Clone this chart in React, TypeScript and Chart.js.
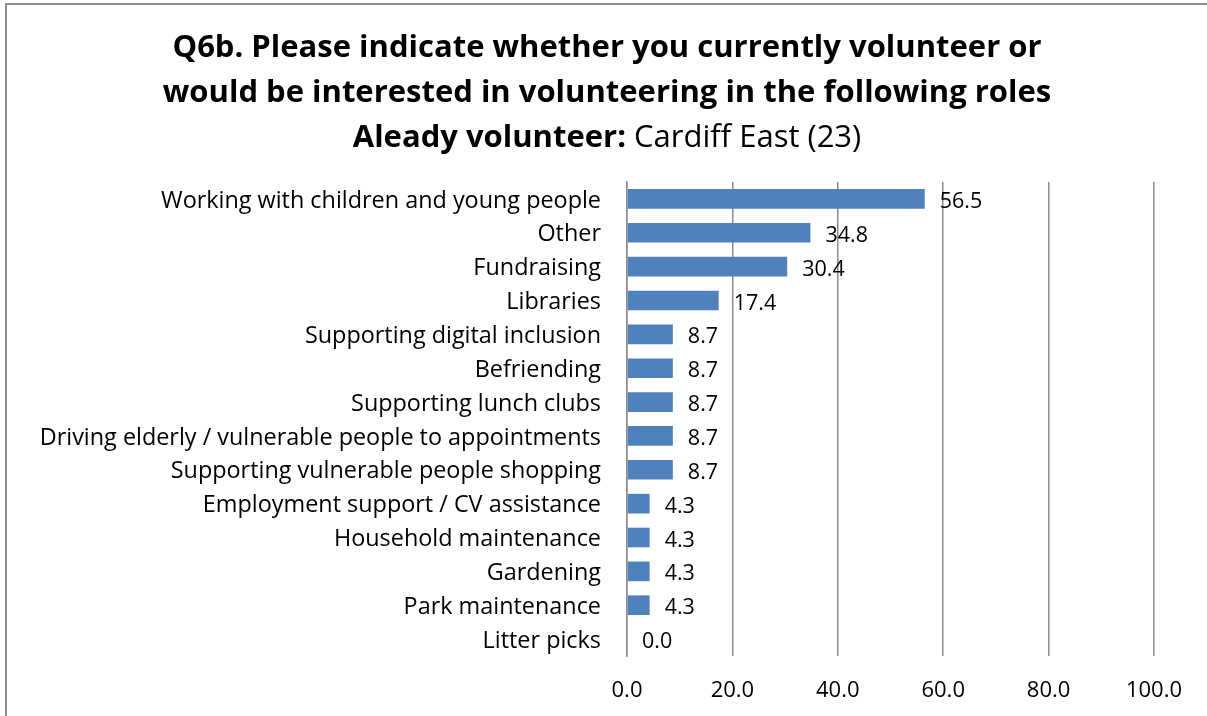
import React, { useEffect, useRef } from "react";
import { Chart, registerables } from "chart.js";

Chart.register(...registerables);

const categories = [
  "Working with children and young people",
  "Other",
  "Fundraising",
  "Libraries",
  "Supporting digital inclusion",
  "Befriending",
  "Supporting lunch clubs",
  "Driving elderly / vulnerable people to appointments",
  "Supporting vulnerable people shopping",
  "Employment support / CV assistance",
  "Household maintenance",
  "Gardening",
  "Park maintenance",
  "Litter picks",
];

const values = [56.5, 34.8, 30.4, 17.4, 8.7, 8.7, 8.7, 8.7, 8.7, 4.3, 4.3, 4.3, 4.3, 0.0];

const titleLine1 = "Q6b. Please indicate whether you currently volunteer or";
const titleLine2 = "would be interested in volunteering in the following roles";
const titleLine3Bold = "Aleady volunteer:";
const titleLine3Normal = " Cardiff East (23)";

const FONT = "'Open Sans', 'Noto Sans', sans-serif";
const BAR_COLOR = "#4F81BD";

export default function App() {
  const ref = useRef<HTMLCanvasElement | null>(null);

  useEffect(() => {
    if (!ref.current) return;

    const framePlugin = {
      id: "frameAndTitle",
      beforeDraw(chart: any) {
        const ctx = chart.ctx;
        ctx.save();
        ctx.fillStyle = "#ffffff";
        ctx.fillRect(0, 0, chart.width, chart.height);
        ctx.strokeStyle = "#8c8c8c";
        ctx.lineWidth = 2;
        ctx.beginPath();
        ctx.moveTo(6, chart.height + 10);
        ctx.lineTo(6, 4);
        ctx.lineTo(chart.width + 10, 4);
        ctx.stroke();
        ctx.restore();
      },
      afterDraw(chart: any) {
        const ctx = chart.ctx;
        const cx = 607;
        ctx.save();
        ctx.fillStyle = "#000000";
        ctx.textBaseline = "middle";
        ctx.textAlign = "center";
        ctx.font = `bold 31px ${FONT}`;
        ctx.fillText(titleLine1, cx, 48);
        ctx.fillText(titleLine2, cx, 93);
        const boldFont = `bold 31px ${FONT}`;
        const normalFont = `31px ${FONT}`;
        ctx.font = boldFont;
        const wb = ctx.measureText(titleLine3Bold).width;
        ctx.font = normalFont;
        const wn = ctx.measureText(titleLine3Normal).width;
        const start = cx - (wb + wn) / 2;
        ctx.textAlign = "left";
        ctx.font = boldFont;
        ctx.fillText(titleLine3Bold, start, 138);
        ctx.font = normalFont;
        ctx.fillText(titleLine3Normal, start + wb, 138);
        ctx.restore();
      },
      afterDatasetsDraw(chart: any) {
        const ctx = chart.ctx;
        const meta = chart.getDatasetMeta(0);
        const yScale = chart.scales.y;
        ctx.save();
        ctx.fillStyle = "#000000";
        ctx.textBaseline = "middle";
        // data labels
        ctx.font = `21.5px ${FONT}`;
        ctx.textAlign = "left";
        meta.data.forEach((el: any, i: number) => {
          const v = chart.data.datasets[0].data[i] as number;
          ctx.fillText(v.toFixed(1), el.x + 15, el.y + 3);
        });
        // category labels
        ctx.font = `23.4px ${FONT}`;
        ctx.textAlign = "right";
        (chart.data.labels as string[]).forEach((lab: string, i: number) => {
          const y = yScale.getPixelForValue(i);
          ctx.fillText(lab, yScale.right - 26, y + 2);
        });
        ctx.restore();
      },
    };

    const chart = new Chart(ref.current, {
      type: "bar",
      data: {
        labels: categories,
        datasets: [
          {
            data: values,
            backgroundColor: BAR_COLOR,
            borderWidth: 0,
            categoryPercentage: 1.0,
            barPercentage: 0.58,
          },
        ],
      },
      options: {
        indexAxis: "y",
        animation: false,
        responsive: false,
        maintainAspectRatio: false,
        layout: { padding: { top: 182, right: 53, bottom: 0, left: 0 } },
        plugins: {
          legend: { display: false },
          tooltip: { enabled: false },
          title: { display: false },
        },
        scales: {
          x: {
            min: 0,
            max: 100,
            ticks: {
              stepSize: 20,
              color: "#000000",
              font: { family: FONT, size: 22 },
              padding: 22,
              callback: (v: any) => Number(v).toFixed(1),
            },
            grid: { color: "#8c8c8c", lineWidth: 1.5, drawTicks: false },
            border: { display: false },
            afterFit: (s: any) => {
              s.height = 60;
            },
          },
          y: {
            ticks: { display: false },
            grid: { display: false, drawTicks: false },
            border: { display: true, color: "#8c8c8c", width: 1.5 },
            afterFit: (s: any) => {
              s.width = 627;
            },
          },
        },
      },
      plugins: [framePlugin],
    });

    return () => chart.destroy();
  }, []);

  return (
    <div style={{ position: "fixed", left: 0, top: 0, width: 1207, height: 716, background: "#fff" }}>
      <canvas ref={ref} width={1207} height={716} style={{ width: 1207, height: 716, display: "block" }} />
    </div>
  );
}
